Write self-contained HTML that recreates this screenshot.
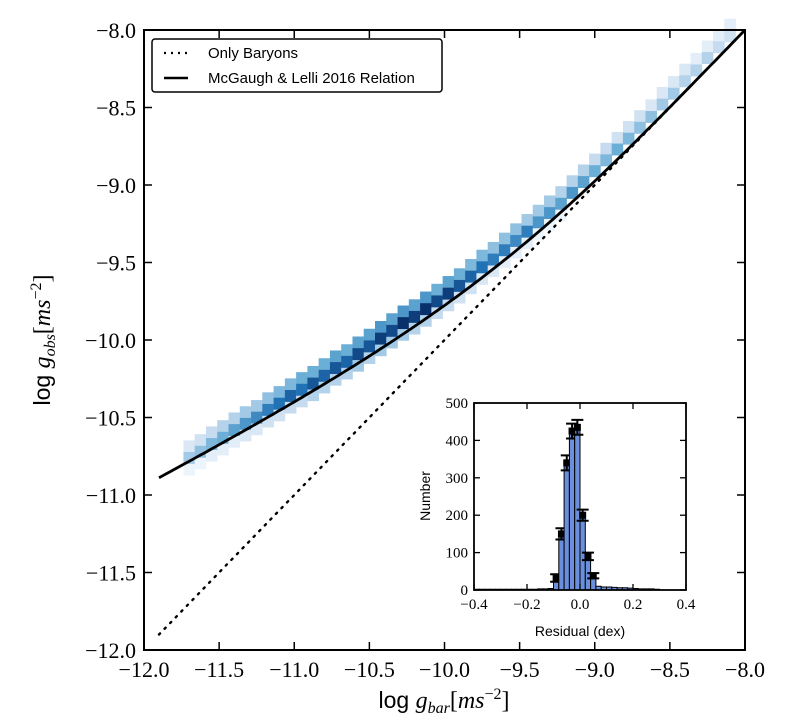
<!DOCTYPE html>
<html><head><meta charset="utf-8"><style>
html,body{margin:0;padding:0;background:#fff;}
svg{display:block;}
.serif{font-family:"Liberation Serif",serif;}
.sans{font-family:"Liberation Sans",sans-serif;}
</style></head>
<body>
<svg id="chart" width="800" height="724" viewBox="0 0 800 724" xmlns="http://www.w3.org/2000/svg">
<g id="heat"></g>
<g id="lines"></g>
<g id="axes"></g>
<g id="legend">
 <rect x="152" y="39" width="290" height="53" rx="3" fill="#fff" stroke="#000" stroke-width="1.5"/>
 <line x1="164" y1="53" x2="188" y2="53" stroke="#000" stroke-width="2.2" stroke-dasharray="2,5"/>
 <text x="208" y="58" class="sans" font-size="15">Only Baryons</text>
 <line x1="164" y1="78" x2="188" y2="78" stroke="#000" stroke-width="2.5"/>
 <text x="208" y="83" class="sans" font-size="15">McGaugh &amp; Lelli 2016 Relation</text>
</g>
<g id="inset"></g>
</svg>
<script>
// ---- main chart data ----
const heatX = [-11.7,-11.625,-11.55,-11.475,-11.4,-11.325,-11.25,-11.175,-11.1,-11.025,-10.95,-10.875,-10.8,-10.725,-10.65,-10.575,-10.5,-10.425,-10.35,-10.275,-10.2,-10.125,-10.05,-9.975,-9.9,-9.825,-9.75,-9.675,-9.6,-9.525,-9.45,-9.375,-9.3,-9.225,-9.15,-9.075,-9.0,-8.925,-8.85,-8.775,-8.7,-8.625,-8.55,-8.475,-8.4,-8.325,-8.25,-8.175,-8.1];
const heatY = [-10.76,-10.72,-10.67,-10.63,-10.58,-10.54,-10.50,-10.45,-10.41,-10.36,-10.32,-10.28,-10.23,-10.18,-10.14,-10.09,-10.04,-9.99,-9.94,-9.89,-9.85,-9.80,-9.75,-9.70,-9.65,-9.59,-9.53,-9.48,-9.42,-9.36,-9.30,-9.24,-9.18,-9.12,-9.05,-8.98,-8.91,-8.84,-8.77,-8.70,-8.63,-8.56,-8.48,-8.41,-8.33,-8.26,-8.18,-8.11,-8.04];
const heatMain = [0.35,0.4,0.45,0.5,0.55,0.6,0.65,0.7,0.75,0.8,0.75,0.85,0.8,0.85,0.8,0.9,0.85,0.95,0.9,1.0,0.95,1.0,0.9,0.95,0.85,0.8,0.75,0.7,0.7,0.65,0.7,0.6,0.6,0.55,0.6,0.55,0.5,0.45,0.5,0.45,0.4,0.4,0.35,0.35,0.3,0.3,0.3,0.25,0.2];
const heatUp = [0.15,0.2,0.25,0.3,0.3,0.35,0.35,0.4,0.45,0.45,0.5,0.5,0.5,0.55,0.5,0.55,0.55,0.6,0.55,0.6,0.55,0.6,0.5,0.55,0.5,0.45,0.45,0.4,0.4,0.4,0.35,0.35,0.35,0.3,0.3,0.3,0.25,0.25,0.2,0.2,0.2,0.15,0.15,0.15,0.15,0.1,0.1,0.1,0.1];
const heatDown = [0.05,0.05,0.1,0.1,0.1,0.15,0.15,0.2,0.2,0.25,0.25,0.3,0.3,0.3,0.3,0.35,0.3,0.35,0.35,0.35,0.3,0.3,0.25,0.25,0.2,0.2,0.15,0.15,0.1,0.1,0.1,0.05,0.05,0.05,0.0,0.0,0.0,0.0,0.0,0.0,0.0,0.0,0.0,0.0,0.0,0.0,0.0,0.0,0.0];
const relationGdagger = [1.2e-10];
const xTicks = [-12.0,-11.5,-11.0,-10.5,-10.0,-9.5,-9.0,-8.5,-8.0];
const yTicks = [-12.0,-11.5,-11.0,-10.5,-10.0,-9.5,-9.0,-8.5,-8.0];
// ---- inset data ----
const histCenters = [-0.39,-0.37,-0.35,-0.33,-0.31,-0.29,-0.27,-0.25,-0.23,-0.21,-0.19,-0.17,-0.15,-0.13,-0.11,-0.09,-0.07,-0.05,-0.03,-0.01,0.01,0.03,0.05,0.07,0.09,0.11,0.13,0.15,0.17,0.19,0.21,0.23,0.25,0.27,0.29];
const histCounts = [2,2,2,2,2,2,2,2,2,2,2,2,3,3,4,32,150,340,425,435,200,90,38,10,8,8,7,6,6,5,4,3,3,3,2];
const histErr = [0,0,0,0,0,0,0,0,0,0,0,0,0,0,0,10,15,20,20,20,15,10,7,0,0,0,0,0,0,0,0,0,0,0,0];
const insetXTicks = [-0.4,-0.2,0.0,0.2,0.4];
const insetYTicks = [0,100,200,300,400,500];

const NS="http://www.w3.org/2000/svg";
function mk(tag,attrs,parent){const e=document.createElementNS(NS,tag);for(const k in attrs)e.setAttribute(k,attrs[k]);parent.appendChild(e);return e;}
const L=144,R=745,T=30,B=650;
const sx=v=>L+(v+12)/4*(R-L);
const sy=v=>B-(v+12)/4*(B-T);
const stops=[[0,[247,251,255]],[0.25,[198,219,239]],[0.5,[107,174,214]],[0.75,[33,113,181]],[1,[8,48,107]]];
function blues(t){t=Math.max(0,Math.min(1,t));for(let i=0;i<stops.length-1;i++){const a=stops[i],b=stops[i+1];if(t<=b[0]){const f=(t-a[0])/(b[0]-a[0]);return 'rgb('+a[1].map((c,j)=>Math.round(c+(b[1][j]-c)*f)).join(',')+')';}}return 'rgb(8,48,107)';}
const heat=document.getElementById('heat');
const cw=sx(-11.925)-sx(-12), ch=sy(-12)-sy(-11.925);
function cell(x,y,v){ if(v<=0.02) return; const r=mk('rect',{x:sx(x)-cw/2,y:sy(y)-ch/2,width:cw+0.3,height:ch+0.3,fill:blues(v)},heat);
 
 }
for(let i=0;i<heatX.length;i++){
 cell(heatX[i],heatY[i]+0.075,heatUp[i]);
 cell(heatX[i],heatY[i]-0.075,heatDown[i]);
 cell(heatX[i],heatY[i],heatMain[i]);
}
const lines=document.getElementById('lines');
let dp='';
for(let x=-11.9;x<=-8.0001+0.05;x+=0.05){const xx=Math.min(x,-8);dp+=(dp?'L':'M')+sx(xx).toFixed(1)+','+sy(xx).toFixed(1);}
const dl=mk('path',{d:dp,fill:'none',stroke:'#000','stroke-width':2.4,'stroke-dasharray':'1.5,6.5','stroke-linecap':'round'},lines);


let rp='';
const gd=relationGdagger[0];
for(let x=-11.9;x<=-8.0001+0.025;x+=0.025){const xx=Math.min(x,-8);const g=Math.pow(10,xx);const go=g/(1-Math.exp(-Math.sqrt(g/gd)));rp+=(rp?'L':'M')+sx(xx).toFixed(1)+','+sy(Math.log10(go)).toFixed(1);}
const rl=mk('path',{d:rp,fill:'none',stroke:'#000','stroke-width':2.8},lines);


const ax=document.getElementById('axes');
const fr=mk('rect',{x:L,y:T,width:R-L,height:B-T,fill:'none',stroke:'#000','stroke-width':2},ax);


xTicks.forEach(v=>{const x=sx(v);
 mk('line',{x1:x,y1:B,x2:x,y2:B-8,stroke:'#000','stroke-width':1.5},ax);
 mk('line',{x1:x,y1:T,x2:x,y2:T+8,stroke:'#000','stroke-width':1.5},ax);
 const t=mk('text',{x:x,y:B+27,'text-anchor':'middle','font-size':22,class:'serif'},ax);
 t.textContent=v.toFixed(1).replace('-','\u2212');
 
 });
yTicks.forEach(v=>{const y=sy(v);
 mk('line',{x1:L,y1:y,x2:L+8,y2:y,stroke:'#000','stroke-width':1.5},ax);
 mk('line',{x1:R,y1:y,x2:R-8,y2:y,stroke:'#000','stroke-width':1.5},ax);
 const t=mk('text',{x:L-8,y:y+8,'text-anchor':'end','font-size':22,class:'serif'},ax);
 t.textContent=v.toFixed(1).replace('-','\u2212');
 
 });
const xl=mk('text',{x:444,y:708,'text-anchor':'middle','font-size':24,class:'serif'},ax);
xl.innerHTML='<tspan class="sans" font-size="23">log </tspan><tspan font-style="italic">g</tspan><tspan font-style="italic" font-size="16" dy="5">bar</tspan><tspan dy="-5">[</tspan><tspan font-style="italic">ms</tspan><tspan font-size="16" dy="-9">\u22122</tspan><tspan dy="9">]</tspan>';


const yl=mk('text',{x:0,y:0,'text-anchor':'middle','font-size':24,class:'serif',transform:'translate(50,340) rotate(-90)'},ax);
yl.innerHTML='<tspan class="sans" font-size="23">log </tspan><tspan font-style="italic">g</tspan><tspan font-style="italic" font-size="16" dy="5">obs</tspan><tspan dy="-5">[</tspan><tspan font-style="italic">ms</tspan><tspan font-size="16" dy="-9">\u22122</tspan><tspan dy="9">]</tspan>';


const ins=document.getElementById('inset');
const iL=474,iR=686,iT=403,iB=590;
const ix=v=>iL+(v+0.4)/0.8*(iR-iL);
const iy=v=>iB-v/500*(iB-iT);
const bg=mk('rect',{x:iL,y:iT,width:iR-iL,height:iB-iT,fill:'#fff'},ins);


const bw=0.02;
histCenters.forEach((c,i)=>{const n=histCounts[i];
 const r=mk('rect',{x:ix(c-bw/2),y:iy(n),width:ix(c+bw/2)-ix(c-bw/2),height:iB-iy(n),fill:'#6a8fdc',stroke:'#000','stroke-width':1},ins);
 
 
 if(histErr[i]>0){
  const e=mk('path',{d:'M'+ix(c)+','+iy(n-histErr[i])+'V'+iy(n+histErr[i])+'M'+(ix(c)-6)+','+iy(n-histErr[i])+'h12M'+(ix(c)-6)+','+iy(n+histErr[i])+'h12',stroke:'#000','stroke-width':2,fill:'none'},ins);
  
  
  const m=mk('rect',{x:ix(c)-3.5,y:iy(n)-3.5,width:7,height:7,fill:'#000'},ins);
  
  
 }});
const ifr=mk('rect',{x:iL,y:iT,width:iR-iL,height:iB-iT,fill:'none',stroke:'#000','stroke-width':1.8},ins);


insetXTicks.forEach(v=>{const x=ix(v);
 mk('line',{x1:x,y1:iB,x2:x,y2:iB-6,stroke:'#000','stroke-width':1.3},ins);
 mk('line',{x1:x,y1:iT,x2:x,y2:iT+6,stroke:'#000','stroke-width':1.3},ins);
 const t=mk('text',{x:x,y:iB+19,'text-anchor':'middle','font-size':15,class:'serif'},ins);
 t.textContent=v.toFixed(1).replace('-','\u2212');
 
 });
insetYTicks.forEach(v=>{const y=iy(v);
 mk('line',{x1:iL,y1:y,x2:iL+6,y2:y,stroke:'#000','stroke-width':1.3},ins);
 mk('line',{x1:iR,y1:y,x2:iR-6,y2:y,stroke:'#000','stroke-width':1.3},ins);
 const t=mk('text',{x:iL-6,y:y+5,'text-anchor':'end','font-size':15,class:'serif'},ins);
 t.textContent=String(v);
 
 });
const ixl=mk('text',{x:580,y:636,'text-anchor':'middle','font-size':14,class:'sans'},ins);
ixl.textContent='Residual (dex)';


const iyl=mk('text',{x:0,y:0,'text-anchor':'middle','font-size':14,class:'sans',transform:'translate(430,496) rotate(-90)'},ins);
iyl.textContent='Number';


</script>
</body></html>
